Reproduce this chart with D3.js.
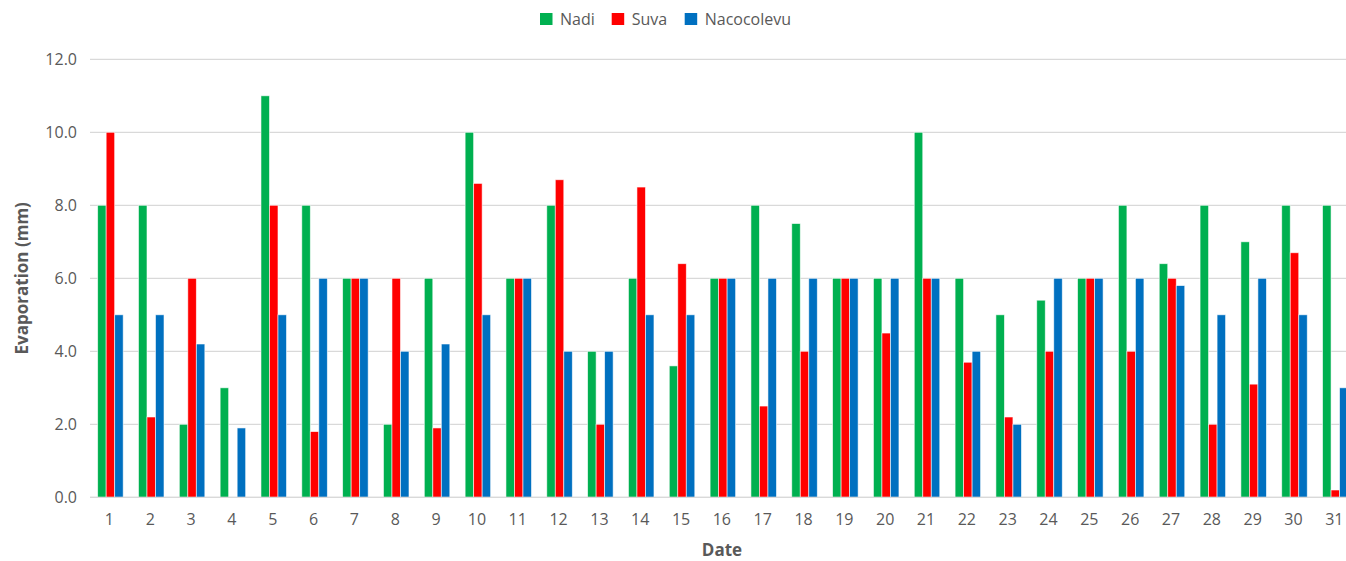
<!DOCTYPE html>
<html>
<head>
<meta charset="utf-8">
<script src="https://cdn.jsdelivr.net/npm/d3@7/dist/d3.min.js"></script>
<style>
  html, body { margin: 0; padding: 0; background: #fff; }
  svg { display: block; font-family: "Open Sans", "Liberation Sans", sans-serif; }
</style>
</head>
<body>
<svg id="chart" width="1346" height="561"></svg>
<script>
const dates = d3.range(1, 32).map(String);
const seriesNames = ["Nadi", "Suva", "Nacocolevu"];
const seriesColors = ["#00B050", "#FF0000", "#0070C0"];
const nadi = [8, 8, 2, 3, 11, 8, 6, 2, 6, 10, 6, 8, 4, 6, 3.6, 6, 8, 7.5, 6, 6, 10, 6, 5, 5.4, 6, 8, 6.4, 8, 7, 8, 8];
const suva = [10, 2.2, 6, 0, 8, 1.8, 6, 6, 1.9, 8.6, 6, 8.7, 2, 8.5, 6.4, 6, 2.5, 4, 6, 4.5, 6, 3.7, 2.2, 4, 6, 4, 6, 2, 3.1, 6.7, 0.2];
const nacocolevu = [5, 5, 4.2, 1.9, 5, 6, 6, 4, 4.2, 5, 6, 4, 4, 5, 5, 6, 6, 6, 6, 6, 6, 4, 2, 6, 6, 6, 5.8, 5, 6, 5, 3];
const yTicks = [0, 2, 4, 6, 8, 10, 12];
const xTitle = "Date";
const yTitle = "Evaporation (mm)";

const allSeries = [nadi, suva, nacocolevu];
const svg = d3.select("#chart");

const mLeft = 90, mTop = 59.3, mBottom = 497.3;
const step = 40.83;
const mRight = mLeft + step * dates.length;

const x = d3.scaleBand().domain(dates).range([mLeft, mRight]).paddingInner(0.375).paddingOuter(0.1875);
const xs = d3.scaleBand().domain(seriesNames).range([0, x.bandwidth()]).padding(0);
const y = d3.scaleLinear().domain([0, 12]).range([mBottom, mTop]);

// gridlines
svg.append("g").selectAll("line").data(yTicks).join("line")
  .attr("x1", mLeft).attr("x2", 1346)
  .attr("y1", d => y(d)).attr("y2", d => y(d))
  .attr("stroke", "#d9d9d9").attr("stroke-width", 1.3);

// y axis labels
const yAxis = d3.axisLeft(y).tickValues(yTicks).tickFormat(d3.format(".1f")).tickSize(0).tickPadding(13);
const gy = svg.append("g").attr("transform", `translate(${mLeft},0)`).call(yAxis);
gy.select(".domain").remove();
gy.selectAll("text").attr("font-size", 16).attr("fill", "#595959")
  .attr("font-family", "\"Open Sans\", sans-serif");

// x axis labels
const xAxis = d3.axisBottom(x).tickSize(0).tickPadding(16);
const gx = svg.append("g").attr("transform", `translate(0,${mBottom})`).call(xAxis);
gx.select(".domain").remove();
gx.selectAll("text").attr("font-size", 16).attr("fill", "#595959")
  .attr("font-family", "\"Open Sans\", sans-serif").attr("dx", -1);

// bars
const groups = svg.append("g").selectAll("g").data(dates).join("g")
  .attr("transform", d => `translate(${x(d)},0)`);
groups.selectAll("rect").data((d, i) => seriesNames.map((s, j) => ({s, j, v: allSeries[j][i]})))
  .join("rect")
  .attr("x", d => xs(d.s))
  .attr("width", xs.bandwidth())
  .attr("y", d => y(d.v))
  .attr("height", d => y(0) - y(d.v))
  .attr("fill", d => seriesColors[d.j])
  .attr("stroke", "#ffffff").attr("stroke-width", 0.8)
  .attr("stroke-opacity", 0.7);

// baseline
svg.append("line").attr("x1", mLeft).attr("x2", 1346).attr("y1", mBottom).attr("y2", mBottom)
  .attr("stroke", "#d9d9d9").attr("stroke-width", 1.3);

// axis titles
svg.append("text").attr("x", 722).attr("y", 556).attr("text-anchor", "middle")
  .attr("font-size", 17).attr("font-weight", "bold").attr("fill", "#595959").text(xTitle);
svg.append("text").attr("transform", `translate(28,${(mTop + mBottom) / 2}) rotate(-90)`)
  .attr("text-anchor", "middle").attr("font-size", 17).attr("font-weight", "bold")
  .attr("fill", "#595959").text(yTitle);

// legend
const legendX = [540, 611.7, 684.7];
const lg = svg.append("g").selectAll("g").data(seriesNames).join("g")
  .attr("transform", (d, i) => `translate(${legendX[i]},13)`);
lg.append("rect").attr("width", 12.5).attr("height", 12).attr("fill", (d, i) => seriesColors[i]);
lg.append("text").attr("x", 20).attr("y", 11.5).attr("font-size", 16).attr("fill", "#595959").text(d => d);
</script>
</body>
</html>
